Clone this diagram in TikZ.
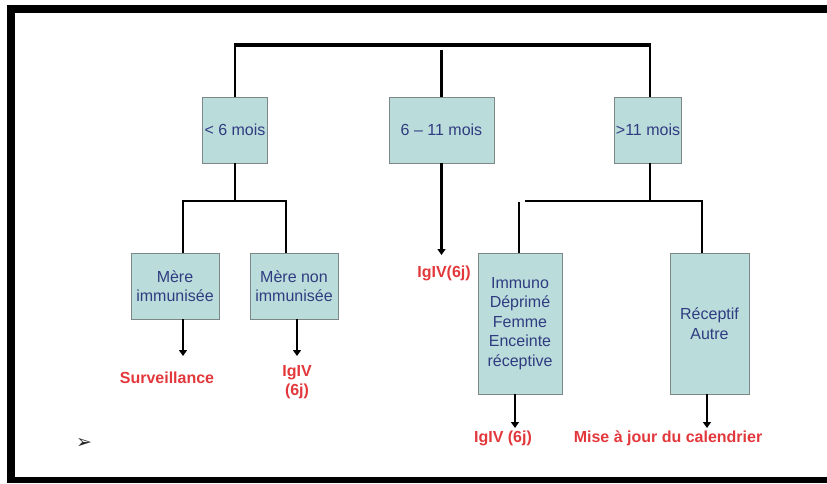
\documentclass[tikz,border=0pt]{standalone}
\usepackage{fontspec}
\setmainfont{Liberation Sans}
\newfontfamily\dejavu{DejaVu Sans}
\usetikzlibrary{arrows.meta, positioning}
\definecolor{boxfill}{RGB}{186,220,219}
\definecolor{boxdraw}{RGB}{125,135,135}
\definecolor{boxtext}{RGB}{48,60,128}
\definecolor{redtext}{RGB}{226,56,60}

\begin{document}
\begin{tikzpicture}[x=1pt, y=-1pt, every node/.style={font=\fontsize{16}{19.5}\selectfont}]
\tikzstyle{agebox} = [rectangle, minimum height=66pt, inner sep=1pt, text centered, align=center, draw=boxdraw, line width=0.8pt, fill=boxfill, text=boxtext]
\tikzstyle{tallbox} = [agebox, minimum height=141pt]
\tikzstyle{outcome} = [inner sep=0pt, align=center, text=redtext, font=\fontsize{16}{19.5}\selectfont\bfseries]
\tikzstyle{line} = [line width=2.2pt]
\tikzstyle{arrow} = [line width=2.2pt, -{Triangle[width=8pt,length=6pt]}]

\useasboundingbox (0,0) rectangle (827,483);

% Frame
\fill (7,5) rectangle (827,13);
\fill (7,5) rectangle (15,477);
\fill (7,477) rectangle (827,483);

% Age groups
\node (young) [agebox, minimum width=65pt] at (235,130) {< 6 mois};
\node (mid) [agebox, minimum width=105pt] at (441.5,130) {6 – 11 mois};
\node (old) [agebox, minimum width=67pt] at (648,130) {>11 mois};

% Second row
\node (immun) [agebox, minimum width=88pt] at (175,286) {Mère\\immunisée};
\node (nonimmun) [agebox, minimum width=88pt] at (294,286) {Mère non\\immunisée};
\node (immuno) [tallbox, minimum width=84pt] at (520,323.5) {Immuno\\Déprimé\\Femme\\Enceinte\\réceptive};
\node (recept) [tallbox, minimum width=79pt] at (709.5,323.5) {Réceptif\\Autre};

% Outcomes
\node (surv) [outcome] at (167,378) {Surveillance};
\node (iglow) [outcome] at (297,382) {IgIV\\(6j)};
\node (igmid) [outcome] at (444,273) {IgIV(6j)};
\node (igimm) [outcome] at (503,438) {IgIV (6j)};
\node (maj) [outcome] at (668,438) {Mise à jour du calendrier};
\node (bullet) [font=\dejavu\fontsize{19}{19}\selectfont, text=black!85] at (84,443) {➢};

% Arrow tips
\coordinate (t1) at (183,356);
\coordinate (t2) at (297,356);
\coordinate (t3) at (441.5,255);
\coordinate (t4) at (515,428);
\coordinate (t5) at (707,428);

% Top split
\coordinate (tl) at (235,45);
\coordinate (tr) at (650,45);
\coordinate (mtop) at (441.5,50);
\draw [line] (young.north) -- (tl);
\draw [line] (old.north -| tr) -- (tr);
\draw [line width=3.4pt] ([xshift=-1pt]tl) -- ([xshift=1pt]tr);
\draw [arrow, -] (mtop) -- (mid.north);

% Left split
\coordinate (ysplit) at (235,201);
\draw [line] (young.south) -- (ysplit);
\draw [line] ([xshift=8pt]immun.north) |- (ysplit) -| ([xshift=-8pt]nonimmun.north);
\draw [arrow] ([xshift=8pt]immun.south) -- (t1);
\draw [arrow] (nonimmun.south -| t2) -- (t2);

% Centre
\draw [arrow] (mid.south) -- (t3);

% Right split
\coordinate (osplit) at (650,201);
\coordinate (obar) at (525,201);
\coordinate (ostub) at (519,202);
\draw [line] (old.south -| osplit) -- (osplit);
\draw [line] (obar) -- (osplit) -| ([xshift=-7.5pt]recept.north);
\draw [line] (immuno.north -| ostub) -- (ostub);
\draw [arrow] (immuno.south -| t4) -- (t4);
\draw [arrow] (recept.south -| t5) -- (t5);

\end{tikzpicture}
\end{document}
